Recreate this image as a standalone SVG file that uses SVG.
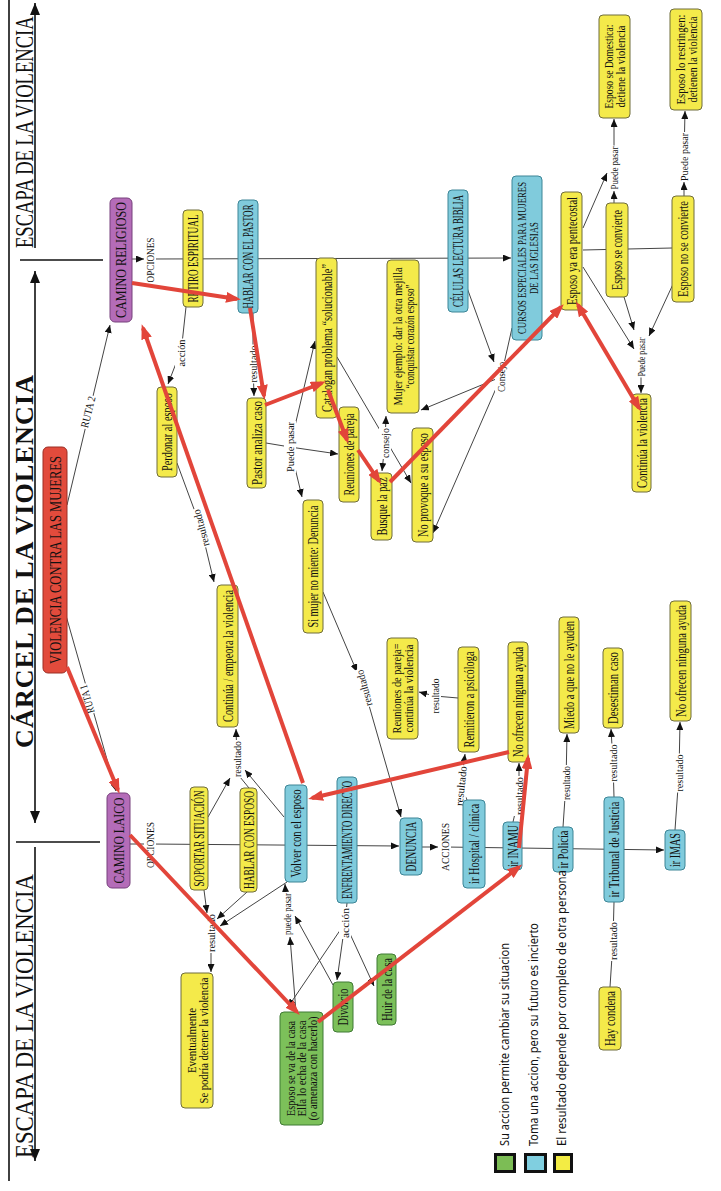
<svg xmlns="http://www.w3.org/2000/svg" width="721" height="1191" viewBox="0 0 721 1191">
<style>
.ny{fill:#f4ea4a;stroke:#6f6c3c;stroke-width:1}
.nb{fill:#80cbdc;stroke:#3c8596;stroke-width:1}
.ng{fill:#7cc05a;stroke:#3f7a34;stroke-width:1}
.np{fill:#b46cb8;stroke:#77407c;stroke-width:1}
.nr{fill:#e24b3c;stroke:#9b2e24;stroke-width:1}
.t{font-family:"Liberation Serif",serif;font-size:14px;fill:#111}
.tu{font-size:15px}
.t2{font-size:12.5px}
.t3{font-size:12px}
.lt{font-family:"Liberation Serif",serif;font-size:11px;fill:#111}
.lb{fill:#fff}
.c{fill:none;stroke:#444;stroke-width:1}
.ca{marker-end:url(#ah)}
.r{fill:none;stroke:#e2453a;stroke-width:4;marker-end:url(#rh)}
.k{fill:none;stroke:#111;stroke-width:1.6}
.title{font-family:"Liberation Serif",serif;font-size:26px;fill:#111}
.lg{font-family:"Noto Sans",sans-serif;font-size:12px;fill:#111}
.sq{stroke:#111;stroke-width:3}
</style>
<defs>
<marker id="ah" viewBox="0 0 8 7" refX="8" refY="3.5" markerWidth="8" markerHeight="7" markerUnits="userSpaceOnUse" orient="auto"><path d="M0,0 L8,3.5 L0,7 z" fill="#111"/></marker>
<marker id="rh" viewBox="0 0 15 11" refX="11" refY="5.5" markerWidth="15" markerHeight="11" markerUnits="userSpaceOnUse" orient="auto-start-reverse"><path d="M0,0 L15,5.5 L0,11 z" fill="#e2453a"/></marker>
<marker id="kh" viewBox="0 0 12 10" refX="12" refY="5" markerWidth="12" markerHeight="10" markerUnits="userSpaceOnUse" orient="auto-start-reverse"><path d="M0,0 L12,5 L0,10 z" fill="#111"/></marker>
</defs>

<g id="frame">
<line class="k" x1="9" y1="0" x2="9" y2="1181"/>
<line class="k" x1="35" y1="248" x2="35" y2="3" marker-end="url(#kh)"/>
<line class="k" x1="20" y1="260" x2="103" y2="260"/>
<line class="k" x1="35" y1="823" x2="35" y2="271" marker-start="url(#kh)" marker-end="url(#kh)"/>
<line class="k" x1="16" y1="842" x2="100" y2="842"/>
<line class="k" x1="35" y1="847" x2="35" y2="1161" marker-end="url(#kh)"/>
<text class="title" transform="translate(33,248) rotate(-90) scale(0.7,1)" textLength="331" lengthAdjust="spacingAndGlyphs">ESCAPA DE LA VIOLENCIA</text>
<text class="title" transform="translate(33,748) rotate(-90)" textLength="373" lengthAdjust="spacing" font-weight="bold">CÁRCEL DE LA VIOLENCIA</text>
<text class="title" transform="translate(33,1158) rotate(-90)" textLength="284" lengthAdjust="spacingAndGlyphs">ESCAPA DE LA VIOLENCIA</text>
</g>

<g id="connectors">
<path class="c ca" d="M132,259 L144,259"/>
<path class="c ca" d="M150,259 L511,258"/>
<path class="c" d="M583,250 L672,248"/>
<path class="c ca" d="M583,228 L607,173"/>
<path class="c ca" d="M614,203 L614,191"/>
<path class="c ca" d="M614,168 L614,119"/>
<path class="c ca" d="M684,196 L684,182"/>
<path class="c ca" d="M684,157 L685,111"/>
<path class="c ca" d="M583,267 L634,349"/>
<path class="c ca" d="M624,297 L634,330"/>
<path class="c ca" d="M674,282 L649,336"/>
<path class="c ca" d="M641,357 L641,393"/>
<path class="c" d="M186,307 L181,353"/>
<path class="c ca" d="M180,353 L168,384"/>
<path class="c" d="M177,463 L201,528"/>
<path class="c ca" d="M201,528 L214,582"/>
<path class="c" d="M253,313 L253,363"/>
<path class="c ca" d="M253,363 L254,396"/>
<path class="c" d="M266,443 L290,447"/>
<path class="c ca" d="M290,447 L315,341"/>
<path class="c ca" d="M290,447 L338,454"/>
<path class="c ca" d="M290,447 L302,497"/>
<path class="c ca" d="M337,357 L411,483"/>
<path class="c ca" d="M385,443 L386,416"/>
<path class="c ca" d="M385,443 L382,471"/>
<path class="c ca" d="M466,285 L494,362"/>
<path class="c" d="M512,328 L501,377"/>
<path class="c ca" d="M501,377 L421,410"/>
<path class="c ca" d="M501,377 L433,533"/>
<path class="c ca" d="M67,505 L110,325"/>
<path class="c ca" d="M65,612 L116,791"/>
<path class="c" d="M130,844 L150,844"/>
<path class="c ca" d="M150,844 L399,846"/>
<path class="c ca" d="M422,847 L438,847"/>
<path class="c ca" d="M445,847 L664,850"/>
<path class="c ca" d="M208,817 L230,778"/>
<path class="c ca" d="M284,817 L245,770"/>
<path class="c" d="M249,788 L240,777"/>
<path class="c ca" d="M237,759 L236,729"/>
<path class="c ca" d="M204,890 L207,913"/>
<path class="c ca" d="M247,892 L217,919"/>
<path class="c ca" d="M287,882 L220,926"/>
<path class="c ca" d="M211,933 L211,972"/>
<path class="c" d="M347,903 L345,923"/>
<path class="c ca" d="M345,923 L337,980"/>
<path class="c ca" d="M345,923 L374,986"/>
<path class="c ca" d="M345,923 L288,1007"/>
<path class="c ca" d="M296,1012 L290,937"/>
<path class="c ca" d="M333,985 L295,916"/>
<path class="c ca" d="M287,914 L285,884"/>
<path class="c ca" d="M323,592 L357,672"/>
<path class="c ca" d="M364,688 L401,817"/>
<path class="c" d="M467,800 L461,786"/>
<path class="c ca" d="M461,786 L465,754"/>
<path class="c" d="M458,698 L435,696"/>
<path class="c ca" d="M435,696 L419,692"/>
<path class="c" d="M513,822 L519,796"/>
<path class="c ca" d="M519,796 L519,763"/>
<path class="c" d="M563,827 L566,783"/>
<path class="c ca" d="M566,783 L567,734"/>
<path class="c" d="M614,797 L613,763"/>
<path class="c ca" d="M613,763 L611,729"/>
<path class="c" d="M675,830 L679,773"/>
<path class="c ca" d="M679,773 L680,722"/>
<path class="c" d="M614,902 L613,941 L610,987"/>
</g>

<g id="labels">
<g transform="translate(150,260) rotate(-90)"><rect class="lb" x="-23.5" y="-6" width="47" height="12"/><text class="lt" x="-22.5" y="3.8" textLength="45" lengthAdjust="spacingAndGlyphs">OPCIONES</text></g>
<g transform="translate(150,845) rotate(-90)"><rect class="lb" x="-24" y="-6" width="48" height="12"/><text class="lt" x="-23" y="3.8" textLength="46" lengthAdjust="spacingAndGlyphs">OPCIONES</text></g>
<g transform="translate(88,412) rotate(-76)"><rect class="lb" x="-17" y="-6" width="34" height="12"/><text class="lt" x="-16" y="3.8" textLength="32" lengthAdjust="spacingAndGlyphs">RUTA 2</text></g>
<g transform="translate(87,699) rotate(-106)"><rect class="lb" x="-15.5" y="-6" width="31" height="12"/><text class="lt" x="-14.5" y="3.8" textLength="29" lengthAdjust="spacingAndGlyphs">RUTA 1</text></g>
<g transform="translate(181,353) rotate(-90)"><rect class="lb" x="-14.5" y="-6" width="29" height="12"/><text class="lt" x="-13.5" y="3.8" textLength="27" lengthAdjust="spacingAndGlyphs">acción</text></g>
<g transform="translate(201,528) rotate(-105)"><rect class="lb" x="-20" y="-6" width="40" height="12"/><text class="lt" x="-19" y="3.8" textLength="38" lengthAdjust="spacingAndGlyphs">resultado</text></g>
<g transform="translate(253,364) rotate(-90)"><rect class="lb" x="-19.5" y="-6" width="39" height="12"/><text class="lt" x="-18.5" y="3.8" textLength="37" lengthAdjust="spacingAndGlyphs">resultado</text></g>
<g transform="translate(290,447) rotate(-90)"><rect class="lb" x="-26" y="-6" width="52" height="12"/><text class="lt" x="-25" y="3.8" textLength="50" lengthAdjust="spacingAndGlyphs">Puede pasar</text></g>
<g transform="translate(385,443) rotate(-90)"><rect class="lb" x="-16" y="-6" width="32" height="12"/><text class="lt" x="-15" y="3.8" textLength="30" lengthAdjust="spacingAndGlyphs">consejo</text></g>
<g transform="translate(501,377) rotate(-90)"><rect class="lb" x="-16" y="-6" width="32" height="12"/><text class="lt" x="-15" y="3.8" textLength="30" lengthAdjust="spacingAndGlyphs">Consejo</text></g>
<g transform="translate(614,168) rotate(-90)"><rect class="lb" x="-22.5" y="-6" width="45" height="12"/><text class="lt" x="-21.5" y="3.8" textLength="43" lengthAdjust="spacingAndGlyphs">Puede pasar</text></g>
<g transform="translate(684,157) rotate(-90)"><rect class="lb" x="-25" y="-6" width="50" height="12"/><text class="lt" x="-24" y="3.8" textLength="48" lengthAdjust="spacingAndGlyphs">Puede pasar</text></g>
<g transform="translate(641,357) rotate(-90)"><rect class="lb" x="-20.5" y="-6" width="41" height="12"/><text class="lt" x="-19.5" y="3.8" textLength="39" lengthAdjust="spacingAndGlyphs">Puede pasar</text></g>
<g transform="translate(237,759) rotate(-90)"><rect class="lb" x="-19" y="-6" width="38" height="12"/><text class="lt" x="-18" y="3.8" textLength="36" lengthAdjust="spacingAndGlyphs">resultado</text></g>
<g transform="translate(211,933) rotate(-90)"><rect class="lb" x="-20" y="-6" width="40" height="12"/><text class="lt" x="-19" y="3.8" textLength="38" lengthAdjust="spacingAndGlyphs">resultado</text></g>
<g transform="translate(345,923) rotate(-90)"><rect class="lb" x="-16" y="-6" width="32" height="12"/><text class="lt" x="-15" y="3.8" textLength="30" lengthAdjust="spacingAndGlyphs">acción</text></g>
<g transform="translate(287,914) rotate(-90)"><rect class="lb" x="-22" y="-6" width="44" height="12"/><text class="lt" x="-21" y="3.8" textLength="42" lengthAdjust="spacingAndGlyphs">puede pasar</text></g>
<g transform="translate(364,688) rotate(-105)"><rect class="lb" x="-19.5" y="-6" width="39" height="12"/><text class="lt" x="-18.5" y="3.8" textLength="37" lengthAdjust="spacingAndGlyphs">resultado</text></g>
<g transform="translate(435,696) rotate(-90)"><rect class="lb" x="-18.5" y="-6" width="37" height="12"/><text class="lt" x="-17.5" y="3.8" textLength="35" lengthAdjust="spacingAndGlyphs">resultado</text></g>
<g transform="translate(445,847) rotate(-90)"><rect class="lb" x="-25" y="-6" width="50" height="12"/><text class="lt" x="-24" y="3.8" textLength="48" lengthAdjust="spacingAndGlyphs">ACCIONES</text></g>
<g transform="translate(461,786) rotate(-84)"><rect class="lb" x="-21" y="-6" width="42" height="12"/><text class="lt" x="-20" y="3.8" textLength="40" lengthAdjust="spacingAndGlyphs">resultado</text></g>
<g transform="translate(519,796) rotate(-90)"><rect class="lb" x="-20" y="-6" width="40" height="12"/><text class="lt" x="-19" y="3.8" textLength="38" lengthAdjust="spacingAndGlyphs">resultado</text></g>
<g transform="translate(566,783) rotate(-90)"><rect class="lb" x="-18" y="-6" width="36" height="12"/><text class="lt" x="-17" y="3.8" textLength="34" lengthAdjust="spacingAndGlyphs">resultado</text></g>
<g transform="translate(613,763) rotate(-90)"><rect class="lb" x="-19.5" y="-6" width="39" height="12"/><text class="lt" x="-18.5" y="3.8" textLength="37" lengthAdjust="spacingAndGlyphs">resultado</text></g>
<g transform="translate(679,773) rotate(-90)"><rect class="lb" x="-19.5" y="-6" width="39" height="12"/><text class="lt" x="-18.5" y="3.8" textLength="37" lengthAdjust="spacingAndGlyphs">resultado</text></g>
<g transform="translate(613,941) rotate(-90)"><rect class="lb" x="-20" y="-6" width="40" height="12"/><text class="lt" x="-19" y="3.8" textLength="38" lengthAdjust="spacingAndGlyphs">resultado</text></g>
</g>

<g id="nodes">
<g id="n-violencia"><rect class="nr" x="43" y="447" width="24" height="226" rx="5"/><text class="t" style="font-size:16px" transform="translate(55,560) rotate(-90)" x="-104" y="5.6" textLength="208" lengthAdjust="spacingAndGlyphs">VIOLENCIA CONTRA LAS MUJERES</text></g>
<g id="n-relig"><rect class="np" x="110" y="198" width="22" height="124" rx="5"/><text class="t tu" transform="translate(121,260) rotate(-90)" x="-58" y="5.3" textLength="116" lengthAdjust="spacingAndGlyphs">CAMINO RELIGIOSO</text></g>
<g id="n-laico"><rect class="np" x="107" y="793" width="23" height="95" rx="5"/><text class="t tu" transform="translate(118.5,840.5) rotate(-90)" x="-43" y="5.3" textLength="86" lengthAdjust="spacingAndGlyphs">CAMINO LAICO</text></g>
<g id="n-retiro"><rect class="ny" x="183" y="210" width="20" height="97" rx="4"/><text class="t" transform="translate(193,258.5) rotate(-90)" x="-44" y="5" textLength="88" lengthAdjust="spacingAndGlyphs">RETIRO ESPIRITUAL</text></g>
<g id="n-hpastor"><rect class="nb" x="238" y="200" width="20" height="113" rx="4"/><text class="t" transform="translate(248,256.5) rotate(-90)" x="-52" y="5" textLength="104" lengthAdjust="spacingAndGlyphs">HABLAR CON EL PASTOR</text></g>
<g id="n-catalogan"><rect class="ny" x="316" y="258" width="21" height="160" rx="4"/><text class="t" transform="translate(326.5,338) rotate(-90)" x="-74" y="5" textLength="148" lengthAdjust="spacingAndGlyphs">Catalogan problema “solucionable”</text></g>
<g id="n-mujer"><rect class="ny" x="387" y="260" width="32" height="153" rx="4"/><g transform="translate(403,336.5) rotate(-90)"><text class="t t2" x="-69" y="-1.4" textLength="138" lengthAdjust="spacingAndGlyphs">Mujer ejemplo: dar la otra mejilla</text><text class="t t2" x="-52" y="10.6" textLength="104" lengthAdjust="spacingAndGlyphs">“conquistar corazón esposo”</text></g></g>
<g id="n-celulas"><rect class="nb" x="448" y="190" width="20" height="122" rx="4"/><text class="t" transform="translate(458,251) rotate(-90)" x="-56" y="5" textLength="112" lengthAdjust="spacingAndGlyphs">CÉLULAS LECTURA BIBLIA</text></g>
<g id="n-cursos"><rect class="nb" x="512" y="176" width="30" height="164" rx="4"/><g transform="translate(527,258) rotate(-90)"><text class="t t2" x="-76" y="-1.4" textLength="152" lengthAdjust="spacingAndGlyphs">CURSOS ESPECIALES PARA MUJERES</text><text class="t t2" x="-36" y="10.6" textLength="72" lengthAdjust="spacingAndGlyphs">DE LAS IGLESIAS</text></g></g>
<g id="n-pente"><rect class="ny" x="561" y="192" width="21" height="118" rx="4"/><text class="t" transform="translate(571.5,251) rotate(-90)" x="-54" y="5" textLength="108" lengthAdjust="spacingAndGlyphs">Esposo ya era pentecostal</text></g>
<g id="n-dom"><rect class="ny" x="599" y="15" width="31" height="103" rx="4"/><g transform="translate(614.5,66.5) rotate(-90)"><text class="t t2" x="-42" y="-1.4" textLength="84" lengthAdjust="spacingAndGlyphs">Esposo se Domestica:</text><text class="t t2" x="-41" y="10.6" textLength="82" lengthAdjust="spacingAndGlyphs">detiene la violencia</text></g></g>
<g id="n-restr"><rect class="ny" x="670" y="9" width="32" height="101" rx="4"/><g transform="translate(686,59.5) rotate(-90)"><text class="t t2" x="-45" y="-1.4" textLength="90" lengthAdjust="spacingAndGlyphs">Esposo lo restringen:</text><text class="t t2" x="-43" y="10.6" textLength="86" lengthAdjust="spacingAndGlyphs">detienen la violencia</text></g></g>
<g id="n-conv"><rect class="ny" x="606" y="203" width="22" height="94" rx="4"/><text class="t" transform="translate(617,250) rotate(-90)" x="-40" y="5" textLength="80" lengthAdjust="spacingAndGlyphs">Esposo se convierte</text></g>
<g id="n-noconv"><rect class="ny" x="672" y="196" width="22" height="106" rx="4"/><text class="t" transform="translate(683,249) rotate(-90)" x="-48" y="5" textLength="96" lengthAdjust="spacingAndGlyphs">Esposo no se convierte</text></g>
<g id="n-contv"><rect class="ny" x="632" y="394" width="19" height="98" rx="4"/><text class="t" transform="translate(641.5,443) rotate(-90)" x="-45" y="5" textLength="90" lengthAdjust="spacingAndGlyphs">Continúa la violencia</text></g>
<g id="n-perdonar"><rect class="ny" x="157" y="387" width="20" height="90" rx="4"/><text class="t" transform="translate(167,432) rotate(-90)" x="-39" y="5" textLength="78" lengthAdjust="spacingAndGlyphs">Perdonar al esposo</text></g>
<g id="n-pastor"><rect class="ny" x="247" y="398" width="19" height="90" rx="4"/><text class="t" transform="translate(256.5,443) rotate(-90)" x="-42" y="5" textLength="84" lengthAdjust="spacingAndGlyphs">Pastor analiza caso</text></g>
<g id="n-reun"><rect class="ny" x="339" y="407" width="20" height="95" rx="4"/><text class="t" transform="translate(349,454.5) rotate(-90)" x="-41" y="5" textLength="82" lengthAdjust="spacingAndGlyphs">Reuniones de pareja</text></g>
<g id="n-busque"><rect class="ny" x="371" y="473" width="21" height="67" rx="4"/><text class="t" transform="translate(381.5,506.5) rotate(-90)" x="-29" y="5" textLength="58" lengthAdjust="spacingAndGlyphs">Busque la paz</text></g>
<g id="n-noprov"><rect class="ny" x="412" y="428" width="21" height="114" rx="4"/><text class="t" transform="translate(422.5,485) rotate(-90)" x="-52" y="5" textLength="104" lengthAdjust="spacingAndGlyphs">No provoque a su esposo</text></g>
<g id="n-simujer"><rect class="ny" x="303" y="500" width="20" height="133" rx="4"/><text class="t" transform="translate(313,566.5) rotate(-90)" x="-61" y="5" textLength="122" lengthAdjust="spacingAndGlyphs">Si mujer no miente: Denuncia</text></g>
<g id="n-contemp"><rect class="ny" x="217" y="585" width="21" height="142" rx="4"/><text class="t" transform="translate(227.5,656) rotate(-90)" x="-66" y="5" textLength="132" lengthAdjust="spacingAndGlyphs">Continúa / empeora la violencia</text></g>
<g id="n-soportar"><rect class="ny" x="190" y="787" width="18" height="103" rx="4"/><text class="t" transform="translate(199,838.5) rotate(-90)" x="-48" y="5" textLength="96" lengthAdjust="spacingAndGlyphs">SOPORTAR SITUACIÓN</text></g>
<g id="n-hesposo"><rect class="ny" x="240" y="788" width="17" height="104" rx="4"/><text class="t" transform="translate(248.5,840) rotate(-90)" x="-49" y="5" textLength="98" lengthAdjust="spacingAndGlyphs">HABLAR CON ESPOSO</text></g>
<g id="n-volver"><rect class="nb" x="285" y="785" width="22" height="97" rx="4"/><text class="t" transform="translate(296,833.5) rotate(-90)" x="-44" y="5" textLength="88" lengthAdjust="spacingAndGlyphs">Volver con el esposo</text></g>
<g id="n-enfr"><rect class="nb" x="337" y="777" width="20" height="126" rx="4"/><text class="t" transform="translate(347,840) rotate(-90)" x="-59" y="5" textLength="118" lengthAdjust="spacingAndGlyphs">ENFRENTAMIENTO DIRECTO</text></g>
<g id="n-denuncia"><rect class="nb" x="400" y="818" width="22" height="57" rx="4"/><text class="t" transform="translate(411,846.5) rotate(-90)" x="-25" y="5" textLength="50" lengthAdjust="spacingAndGlyphs">DENUNCIA</text></g>
<g id="n-hosp"><rect class="nb" x="463" y="800" width="22" height="88" rx="4"/><text class="t" transform="translate(474,844) rotate(-90)" x="-40" y="5" textLength="80" lengthAdjust="spacingAndGlyphs">ir Hospital / clínica</text></g>
<g id="n-inamu"><rect class="nb" x="503" y="822" width="19" height="48" rx="4"/><text class="t" transform="translate(512.5,846) rotate(-90)" x="-21" y="5" textLength="42" lengthAdjust="spacingAndGlyphs">ir INAMU</text></g>
<g id="n-policia"><rect class="nb" x="553" y="827" width="20" height="45" rx="4"/><text class="t" transform="translate(563,849.5) rotate(-90)" x="-19" y="5" textLength="38" lengthAdjust="spacingAndGlyphs">ir Policía</text></g>
<g id="n-tribunal"><rect class="nb" x="604" y="797" width="20" height="105" rx="4"/><text class="t" transform="translate(614,849.5) rotate(-90)" x="-48" y="5" textLength="96" lengthAdjust="spacingAndGlyphs">ir Tribunal de Justicia</text></g>
<g id="n-imas"><rect class="nb" x="665" y="830" width="20" height="40" rx="4"/><text class="t" transform="translate(675,850) rotate(-90)" x="-17" y="5" textLength="34" lengthAdjust="spacingAndGlyphs">ir IMAS</text></g>
<g id="n-noofrece1"><rect class="ny" x="508" y="642" width="20" height="120" rx="4"/><text class="t" transform="translate(518,702) rotate(-90)" x="-55" y="5" textLength="110" lengthAdjust="spacingAndGlyphs">No ofrecen ninguna ayuda</text></g>
<g id="n-remit"><rect class="ny" x="458" y="647" width="21" height="105" rx="4"/><text class="t" transform="translate(468.5,699.5) rotate(-90)" x="-48" y="5" textLength="96" lengthAdjust="spacingAndGlyphs">Remitieron a psicóloga</text></g>
<g id="n-reun2"><rect class="ny" x="387" y="638" width="31" height="101" rx="4"/><g transform="translate(402.5,688.5) rotate(-90)"><text class="t t2" x="-45" y="-1.4" textLength="90" lengthAdjust="spacingAndGlyphs">Reuniones de pareja=</text><text class="t t2" x="-44" y="10.6" textLength="88" lengthAdjust="spacingAndGlyphs">continúa la violencia</text></g></g>
<g id="n-miedo"><rect class="ny" x="559" y="617" width="20" height="116" rx="4"/><text class="t" transform="translate(569,675) rotate(-90)" x="-54" y="5" textLength="108" lengthAdjust="spacingAndGlyphs">Miedo a que no le ayuden</text></g>
<g id="n-desest"><rect class="ny" x="603" y="648" width="20" height="80" rx="4"/><text class="t" transform="translate(613,688) rotate(-90)" x="-36" y="5" textLength="72" lengthAdjust="spacingAndGlyphs">Desestiman caso</text></g>
<g id="n-noofrece2"><rect class="ny" x="670" y="601" width="21" height="120" rx="4"/><text class="t" transform="translate(680.5,661) rotate(-90)" x="-56" y="5" textLength="112" lengthAdjust="spacingAndGlyphs">No ofrecen ninguna ayuda</text></g>
<g id="n-eventual"><rect class="ny" x="181" y="973" width="32" height="135" rx="4"/><g transform="translate(197,1040.5) rotate(-90)"><text class="t t2" x="-32.5" y="-1.4" textLength="65" lengthAdjust="spacingAndGlyphs">Eventualmente</text><text class="t t2" x="-63" y="10.6" textLength="126" lengthAdjust="spacingAndGlyphs">Se podría detener la violencia</text></g></g>
<g id="n-esposova"><rect class="ng" x="280" y="1012" width="43" height="113" rx="4"/><g transform="translate(301.5,1068.5) rotate(-90)"><text class="t t3" x="-47.5" y="-6.8" textLength="95" lengthAdjust="spacingAndGlyphs">Esposo se va de la casa</text><text class="t t3" x="-48" y="4.6" textLength="96" lengthAdjust="spacingAndGlyphs">Ella lo echa de la casa</text><text class="t t3" x="-52" y="15.6" textLength="104" lengthAdjust="spacingAndGlyphs">(o amenaza con hacerlo)</text></g></g>
<g id="n-divorcio"><rect class="ng" x="333" y="982" width="20" height="50" rx="4"/><text class="t" transform="translate(343,1007) rotate(-90)" x="-18.5" y="5" textLength="37" lengthAdjust="spacingAndGlyphs">Divorcio</text></g>
<g id="n-huir"><rect class="ng" x="377" y="954" width="19" height="71" rx="4"/><text class="t" transform="translate(386.5,989.5) rotate(-90)" x="-31.5" y="5" textLength="63" lengthAdjust="spacingAndGlyphs">Huir de la casa</text></g>
<g id="n-condena"><rect class="ny" x="599" y="987" width="22" height="63" rx="4"/><text class="t" transform="translate(610,1018.5) rotate(-90)" x="-27.5" y="5" textLength="55" lengthAdjust="spacingAndGlyphs">Hay condena</text></g>
</g>

<g id="red-path">
<path class="r" d="M132,283 L237,299"/>
<path class="r" d="M250,308 L264,396"/>
<path class="r" d="M265,405 L322,383"/>
<path class="r" d="M328,390 L347,440"/>
<path class="r" d="M358,450 L379,481"/>
<path class="r" d="M390,482 L561,307"/>
<path class="r" d="M578,305 L639,408" marker-start="url(#rh)"/>
<path class="r" d="M303,783 L143,328"/>
<path class="r" d="M67,667 L118,790"/>
<path class="r" d="M130,835 L297,1012"/>
<path class="r" d="M318,1022 L519,867"/>
<path class="r" d="M519,848 L528,758"/>
<path class="r" d="M509,752 L312,798"/>
</g>

<g id="legend">
<rect class="sq" x="495.5" y="1154.5" width="19" height="17" fill="#7cbd55"/>
<rect class="sq" x="525.5" y="1154.5" width="20" height="17" fill="#80cfe0"/>
<rect class="sq" x="554.5" y="1154.5" width="17" height="17" fill="#f3ec44"/>
<text class="lg" transform="translate(509,1146) rotate(-90)" textLength="203" lengthAdjust="spacingAndGlyphs">Su accion permite cambiar su situacion</text>
<text class="lg" transform="translate(538,1146) rotate(-90)" textLength="223" lengthAdjust="spacingAndGlyphs">Toma una accion, pero su futuro es incierto</text>
<text class="lg" transform="translate(566,1146) rotate(-90)" textLength="276" lengthAdjust="spacingAndGlyphs">El resultado depende por completo de otra persona</text>
</g>
</svg>
